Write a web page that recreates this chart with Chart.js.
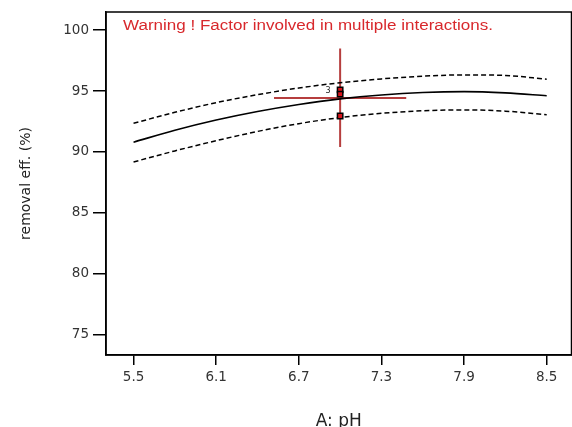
<!DOCTYPE html>
<html>
<head>
<meta charset="utf-8">
<script src="https://cdn.jsdelivr.net/npm/chart.js@4/dist/chart.umd.min.js"></script>
<style>
  html, body { margin: 0; padding: 0; overflow: hidden; background: #fff; }
  #wrap { width: 577px; height: 440px; }
</style>
</head>
<body>
<div id="wrap"><canvas id="c" width="577" height="440"></canvas></div>
<script>
// One-factor effect of pH on removal efficiency
const phValues   = [5.5, 5.8, 6.1, 6.4, 6.7, 7.0, 7.3, 7.6, 7.9, 8.2, 8.5];
const predicted  = [90.8, 91.78, 92.62, 93.32, 93.9, 94.36, 94.68, 94.88, 94.95, 94.85, 94.62];
const upperBand  = [92.35, 93.25, 94.05, 94.7, 95.25, 95.68, 96.0, 96.22, 96.33, 96.28, 95.98];
const lowerBand  = [89.17, 90.08, 90.92, 91.68, 92.32, 92.82, 93.17, 93.38, 93.45, 93.35, 93.05];

// Design points at the centre setting
const designPh   = [7.0, 7.0, 7.0];
const designEff  = [95.1, 94.75, 92.95];
const replicateLabel = '3';

// Crosshair at the current factor setting
const crossPh    = 7.0;
const crossEffLo = 90.4;
const crossEffHi = 98.5;
const crossPhLo  = 6.52;
const crossPhHi  = 7.48;
const crossEff   = 94.43;

const xTickValues = [5.5, 6.1, 6.7, 7.3, 7.9, 8.5];
const yTickValues = [75, 80, 85, 90, 95, 100];
const xMin = 5.3, xMax = 8.68;
const yMin = 73.3, yMax = 101.5;

const warningText = 'Warning ! Factor involved in multiple interactions.';

const pts = (xs, ys) => xs.map((x, i) => ({ x: x, y: ys[i] }));

const RED_LINE = 'rgba(178, 52, 52, 0.95)';
const TICK_FONT = { family: '"DejaVu Sans", sans-serif', size: 13.5 };

const framePlugin = {
  id: 'frame',
  afterDatasetsDraw(chart) {
    const { ctx, chartArea: a } = chart;
    ctx.save();
    ctx.strokeStyle = '#000';
    ctx.lineWidth = 1.5;
    ctx.strokeRect(a.left, a.top, a.right - a.left, a.bottom - a.top);

    // warning banner, widened to span the upper part of the plot
    ctx.fillStyle = '#d8282c';
    ctx.font = '14px "Liberation Sans", Arial, sans-serif';
    ctx.textAlign = 'center';
    ctx.textBaseline = 'middle';
    const w = ctx.measureText(warningText).width;
    const sx = 370 / w;
    ctx.translate(308, 26.5);
    ctx.scale(sx, 1);
    ctx.fillText(warningText, 0, 0);
    ctx.restore();

    ctx.save();
    const xs = chart.scales.x, ys = chart.scales.y;
    ctx.fillStyle = '#222';
    ctx.font = '8px "DejaVu Sans", sans-serif';
    ctx.textAlign = 'center';
    ctx.textBaseline = 'middle';
    ctx.fillText(replicateLabel, xs.getPixelForValue(designPh[0]) - 12, ys.getPixelForValue(designEff[0]) + 1);
    ctx.restore();
  }
};

new Chart(document.getElementById('c'), {
  type: 'scatter',
  data: {
    datasets: [
      { type: 'line', data: [{ x: crossPh, y: crossEffLo }, { x: crossPh, y: crossEffHi }],
        borderColor: RED_LINE, borderWidth: 2, pointRadius: 0, order: 5 },
      { type: 'line', data: [{ x: crossPhLo, y: crossEff }, { x: crossPhHi, y: crossEff }],
        borderColor: RED_LINE, borderWidth: 2, pointRadius: 0, order: 5 },
      { type: 'line', data: pts(phValues, upperBand), borderColor: '#000', borderWidth: 1.5,
        borderDash: [5, 3], pointRadius: 0, cubicInterpolationMode: 'monotone', order: 3 },
      { type: 'line', data: pts(phValues, lowerBand), borderColor: '#000', borderWidth: 1.5,
        borderDash: [5, 3], pointRadius: 0, cubicInterpolationMode: 'monotone', order: 3 },
      { type: 'line', data: pts(phValues, predicted), borderColor: '#000', borderWidth: 1.6,
        pointRadius: 0, cubicInterpolationMode: 'monotone', order: 2 },
      { type: 'scatter', data: pts(designPh, designEff), pointStyle: 'rect', pointRadius: 3.8,
        backgroundColor: '#d8141c', borderColor: '#000', borderWidth: 1.5, order: 1 }
    ]
  },
  options: {
    responsive: false,
    animation: false,
    devicePixelRatio: 1,
    layout: { padding: { left: 0, right: 0, top: 12, bottom: 0 } },
    plugins: { legend: { display: false }, tooltip: { enabled: false } },
    scales: {
      x: {
        type: 'linear', min: xMin, max: xMax,
        afterFit(s) { s.height = 85; s.paddingLeft = 0; s.paddingRight = 0; },
        afterBuildTicks(s) { s.ticks = xTickValues.map(v => ({ value: v })); },
        grid: { drawOnChartArea: false, drawTicks: true, tickLength: 10, color: '#000', lineWidth: 1.5 },
        border: { display: true, color: '#000', width: 1.5 },
        ticks: { color: '#333', padding: 4, maxRotation: 0, font: TICK_FONT,
          callback: v => Number(v).toFixed(1) },
        title: { display: true, text: 'A: pH', color: '#222', padding: { top: 0, bottom: 8 },
          font: { family: '"DejaVu Sans", sans-serif', size: 17 } }
      },
      y: {
        type: 'linear', min: yMin, max: yMax,
        afterFit(s) { s.width = 106; s.paddingTop = 0; s.paddingBottom = 0; },
        afterBuildTicks(s) { s.ticks = yTickValues.map(v => ({ value: v })); },
        grid: { drawOnChartArea: false, drawTicks: true, tickLength: 13, color: '#000', lineWidth: 1.5 },
        border: { display: true, color: '#000', width: 1.5 },
        ticks: { color: '#333', padding: 4, font: TICK_FONT },
        title: { display: true, text: 'removal eff. (%)', color: '#222', padding: { top: 18, bottom: 0 },
          font: { family: '"DejaVu Sans", sans-serif', size: 14 } }
      }
    }
  },
  plugins: [framePlugin]
});
</script>
</body>
</html>
